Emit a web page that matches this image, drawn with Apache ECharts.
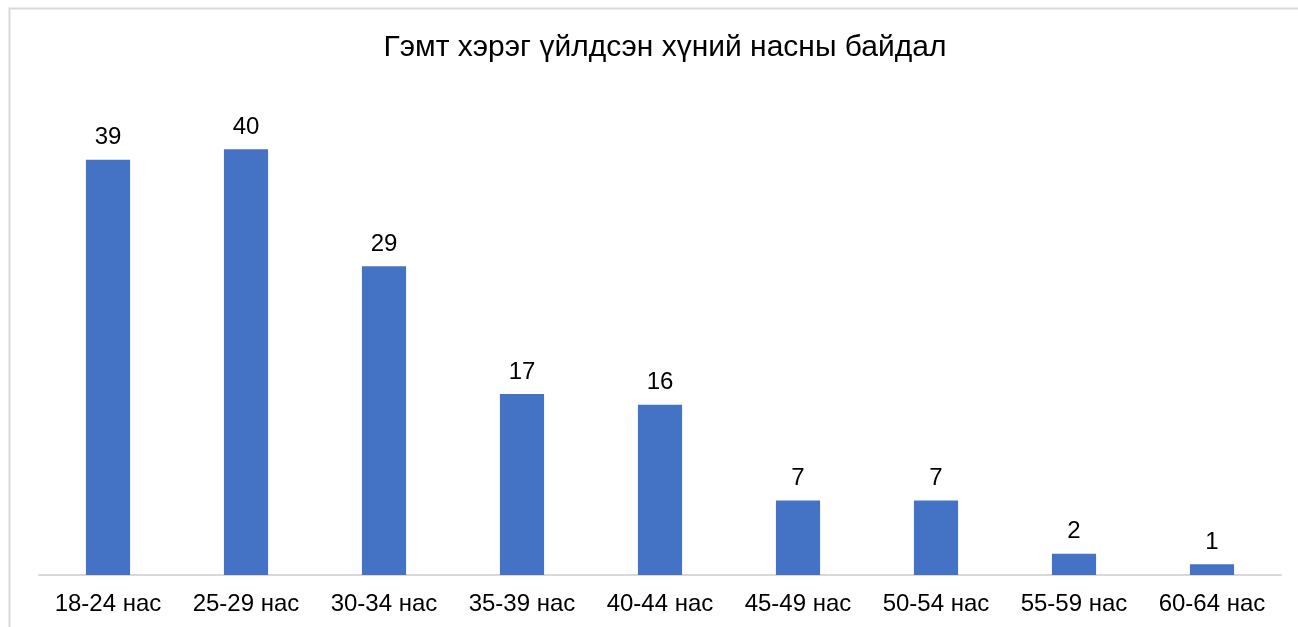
<!DOCTYPE html>
<html><head><meta charset="utf-8">
<script src="https://cdn.jsdelivr.net/npm/echarts@6/dist/echarts.min.js"></script>
<style>html,body{margin:0;padding:0;background:#fff}#c{width:1298px;height:627px}</style>
</head><body><div id="c"></div>
<script>
const title = 'Гэмт хэрэг үйлдсэн хүний насны байдал';
const categories = ['18-24 нас','25-29 нас','30-34 нас','35-39 нас','40-44 нас','45-49 нас','50-54 нас','55-59 нас','60-64 нас'];
const values = [39,40,29,17,16,7,7,2,1];
const font = '"Liberation Sans", Arial, sans-serif';
const chart = echarts.init(document.getElementById('c'));
chart.setOption({
  animation:false,
  title:{text:title,left:660,top:28,textAlign:'center',textStyle:{fontFamily:font,fontSize:30,fontWeight:'normal',color:'#000'}},
  graphic:[{type:'rect',shape:{x:9.5,y:8.5,width:1400,height:700},style:{fill:'none',stroke:'#d9d9d9',lineWidth:2},z:-1}],
  grid:{left:39,right:17,top:96,bottom:52},
  xAxis:{type:'category',data:categories,axisTick:{show:false},
    axisLine:{lineStyle:{color:'#d9d9d9',width:2}},
    axisLabel:{fontFamily:font,fontSize:24,color:'#000',margin:17,interval:0}},
  yAxis:{type:'value',min:0,max:45,show:false,splitLine:{show:false}},
  series:[{type:'bar',data:values,barWidth:'32%',itemStyle:{color:'#4472c4'},
    label:{show:true,position:'top',distance:10,fontFamily:font,fontSize:24,color:'#000'}}]
});
</script></body></html>
